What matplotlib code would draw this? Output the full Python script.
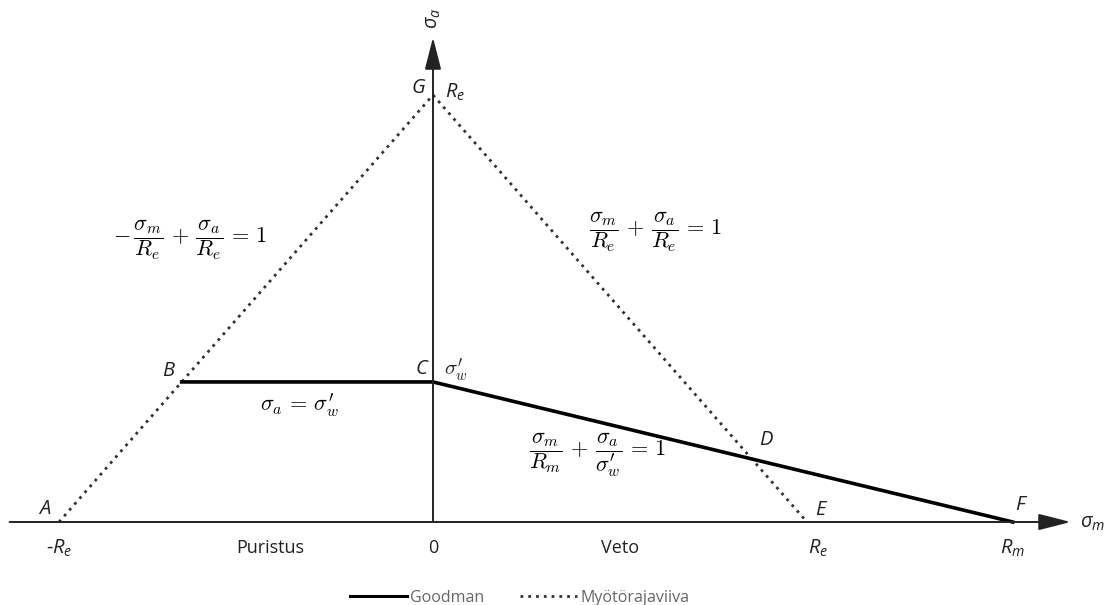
import numpy as np
import matplotlib.pyplot as plt
from matplotlib.lines import Line2D

# ── material values (normalised to R_e) ──────────────────────────────────────
Re = 1.0          # yield strength
Rm = 1.55         # tensile strength
sigma_w = 0.328   # fatigue limit sigma_w'

# yield limit line A -> G -> E
yield_sm = [-Re, 0.0, Re]
yield_sa = [0.0, Re, 0.0]

# Goodman line B -> C -> F (B lies on the compressive yield line)
goodman_sm = [-(Re - sigma_w), 0.0, Rm]
goodman_sa = [sigma_w, sigma_w, 0.0]

# point D: Goodman line meets tensile yield line
d_sm = (Re - sigma_w) / (1 - sigma_w / Rm)
d_sa = Re - d_sm

plt.rcParams["font.family"] = ["Open Sans", "DejaVu Sans"]
plt.rcParams["mathtext.fontset"] = "custom"
plt.rcParams["mathtext.it"] = "Open Sans:italic"
plt.rcParams["mathtext.rm"] = "Open Sans"

fig = plt.figure(figsize=(11.15, 6.05), dpi=100)
ax = fig.add_axes([0, 0, 1, 1])
ax.set_xlim(-433 / 374, (1115 - 433) / 374)
ax.set_ylim(-83 / 427, 522 / 427)
ax.axis("off")

# ── axes with arrows ─────────────────────────────────────────────────────────
arrow = dict(arrowstyle="-|>,head_length=1.1,head_width=0.28", mutation_scale=18,
             lw=1.4, color="#222222", shrinkA=0, shrinkB=0)
ax.annotate("", xy=(1.705, 0), xytext=(-1.132, 0), arrowprops=arrow)
ax.annotate("", xy=(0, 1.135), xytext=(0, 0), arrowprops=arrow)

# ── curves ───────────────────────────────────────────────────────────────────
dots = (0, (1, 1.8))
ax.plot(yield_sm, yield_sa, color="#333333", lw=2.0, ls=dots)
ax.plot(goodman_sm, goodman_sa, color="black", lw=2.6, solid_joinstyle="miter")

lab = dict(fontsize=14.5, style="italic", color="#222222")
sub = dict(fontsize=14.5, color="#222222")

def px(x, y):
    return (x - 433) / 374, (522 - y) / 427

# point letters
ax.text(*px(425, 88), "G", ha="right", va="center", **lab)
ax.text(*px(445, 92), r"$R_e$", ha="left", va="center", **sub)
ax.text(*px(45, 509), "A", ha="center", va="center", **lab)
ax.text(*px(168, 371), "B", ha="center", va="center", **lab)
ax.text(*px(421, 369), "C", ha="center", va="center", **lab)
ax.text(*px(444, 370), r"$\sigma_w^{\prime}$", ha="left", va="center",
        fontsize=15, math_fontfamily="cm", color="#222222")
ax.text(d_sm + 0.02, d_sa + 0.045, "D", ha="left", va="center", **lab)
ax.text(*px(820, 510), "E", ha="center", va="center", **lab)
ax.text(*px(1020, 505), "F", ha="center", va="center", **lab)

# axis titles
ax.text(*px(1093, 523), r"$\sigma_m$", ha="center", va="center", **sub)
ax.text(*px(433, 18), r"$\sigma_a$", ha="center", va="center", rotation=90, **sub)

# labels under the sigma_m axis
bottom = (522 - 548) / 427
ax.text(-Re, bottom, r"-$R_e$", ha="center", va="center", **sub)
ax.text(0, bottom, "0", ha="center", va="center", fontsize=13, color="#222222")
ax.text(Re + 0.03, bottom, r"$R_e$", ha="center", va="center", **sub)
ax.text(Rm, bottom, r"$R_m$", ha="center", va="center", **sub)
ax.text(px(270, 0)[0], bottom, "Puristus", ha="center", va="center",
        fontsize=13, color="#222222")
ax.text(px(620, 0)[0], bottom, "Veto", ha="center", va="center",
        fontsize=13, color="#222222")

# equations
eq = dict(fontsize=16, math_fontfamily="cm", ha="center", va="center")
ax.text(*px(190, 240),
        r"$-\,\dfrac{\sigma_m}{R_e}\,+\,\dfrac{\sigma_a}{R_e}\,=\,1$", **eq)
ax.text(*px(656, 232),
        r"$\dfrac{\sigma_m}{R_e}\,+\,\dfrac{\sigma_a}{R_e}\,=\,1$", **eq)
ax.text(*px(300, 405), r"$\sigma_a\,=\,\sigma_w^{\prime}$", **eq)
ax.text(*px(598, 455),
        r"$\dfrac{\sigma_m}{R_m}\,+\,\dfrac{\sigma_a}{\sigma_w^{\prime}}\,=\,1$",
        **eq)

# ── legend ───────────────────────────────────────────────────────────────────
handles = [Line2D([], [], color="black", lw=2.2),
           Line2D([], [], color="#333333", lw=2.0, ls=dots)]
fig.legend(handles, ["Goodman", "Myötörajaviiva"], loc="center",
           bbox_to_anchor=(0.466, 1 - 598 / 605), ncol=2, frameon=False,
           fontsize=11.5, labelcolor="#666666", handlelength=3.6,
           handletextpad=0.2, columnspacing=2.2)

fig.savefig("out.png", dpi=100)
